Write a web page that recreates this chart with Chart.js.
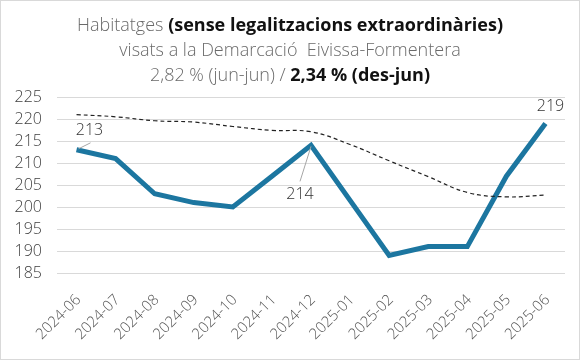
<!DOCTYPE html>
<html>
<head>
<meta charset="utf-8">
<script src="https://cdn.jsdelivr.net/npm/chart.js@4.4.1/dist/chart.umd.min.js"></script>
<style>
    html, body { margin: 0; padding: 0; background: #fff; }
    #wrap {
        position: relative;
        width: 578px;
        height: 358px;
        border: 1px solid #d9d9d9;
        overflow: hidden;
    }
    #chart { position: absolute; left: -1px; top: -1px; }
    #title {
        position: absolute;
        left: 0;
        top: 11px;
        width: 578px;
        text-align: center;
        font-family: "Open Sans", sans-serif;
        font-weight: 300;
        font-size: 18px;
        line-height: 25px;
        color: #6a6a6a;
        z-index: 2;
    }
    #title b { font-weight: 700; color: #111; }
</style>
</head>
<body>
<div id="wrap">
    <div id="title">
        <div>Habitatges <b>(sense legalitzacions extraordinàries)</b></div>
        <div>visats a la Demarcació&nbsp; Eivissa-Formentera</div>
        <div>2,82 % (jun-jun) / <b>2,34 % (des-jun)</b></div>
    </div>
    <canvas id="chart" width="580" height="360"></canvas>
</div>
<script>
// months shown on the x axis
const months = ['2024-06', '2024-07', '2024-08', '2024-09', '2024-10', '2024-11', '2024-12',
    '2025-01', '2025-02', '2025-03', '2025-04', '2025-05', '2025-06'];

// housing units approved each month (blue line)
const visats = [213, 211, 203, 201, 200, 207, 214, 201.5, 189, 191, 191, 207, 219];

// trend line (dashed)
const trend = [221, 220.5, 219.6, 219.3, 218.3, 217.4, 217.1, 214.2, 210.5, 206.9, 203.3, 202.3, 202.7];

// y axis ticks
const yMin = 185;
const yMax = 225;
const yStep = 5;

// which points get a value label
const labelled = [0, 6, 12];

const FONT = '"Open Sans", sans-serif';

// draws the value labels with their small leader lines
const valueLabels = {
    id: 'valueLabels',
    afterDatasetsDraw(chart) {
        const ctx = chart.ctx;
        const xs = chart.scales.x;
        const ys = chart.scales.y;
        // offsets for each label: text centre and leader end
        const placing = {
            0: { tx: 13, ty: -19, leader: [2, -1, 14, -7] },
            6: { tx: -11, ty: 49, leader: [0, 1, -11, 36] },
            12: { tx: 5, ty: -17, leader: null }
        };
        ctx.save();
        labelled.forEach(i => {
            const px = xs.getPixelForValue(i);
            const py = ys.getPixelForValue(visats[i]);
            const p = placing[i];
            if (p.leader) {
                ctx.strokeStyle = '#a6a6a6';
                ctx.lineWidth = 1;
                ctx.beginPath();
                ctx.moveTo(px + p.leader[0], py + p.leader[1]);
                ctx.lineTo(px + p.leader[2], py + p.leader[3]);
                ctx.stroke();
            }
            ctx.fillStyle = '#333';
            ctx.font = '300 16px ' + FONT;
            ctx.textAlign = 'center';
            ctx.textBaseline = 'middle';
            ctx.fillText(String(Math.round(visats[i])), px + p.tx, py + p.ty);
        });
        ctx.restore();
    }
};

new Chart(document.getElementById('chart'), {
    type: 'line',
    data: {
        labels: months,
        datasets: [
            {
                label: 'Tendència',
                data: trend,
                borderColor: '#222',
                borderWidth: 1.2,
                borderDash: [4, 3],
                pointRadius: 0,
                tension: 0.4,
                fill: false
            },
            {
                label: 'Visats',
                data: visats,
                borderColor: '#1c76a0',
                borderWidth: 5,
                pointRadius: 0,
                tension: 0,
                fill: false
            }
        ]
    },
    options: {
        responsive: false,
        animation: false,
        layout: {
            padding: { left: 10, right: 15, top: 97, bottom: 0 }
        },
        plugins: {
            legend: { display: false },
            title: { display: false },
            tooltip: { enabled: false }
        },
        scales: {
            x: {
                offset: true,
                grid: { display: false, drawTicks: false },
                border: { display: false },
                ticks: {
                    autoSkip: false,
                    minRotation: 45,
                    maxRotation: 45,
                    padding: 18,
                    labelOffset: 2,
                    color: '#555',
                    font: { family: FONT, size: 15, weight: 300 }
                },
                afterFit(scale) { scale.height = 87; }
            },
            y: {
                min: yMin,
                max: yMax,
                grid: { color: '#d9d9d9', lineWidth: 1, drawTicks: false },
                border: { display: false },
                ticks: {
                    autoSkip: false,
                    stepSize: yStep,
                    padding: 15,
                    color: '#404040',
                    font: { family: FONT, size: 16, weight: 300 }
                },
                afterFit(scale) { scale.width = 47; }
            }
        }
    },
    plugins: [valueLabels]
});
</script>
</body>
</html>
